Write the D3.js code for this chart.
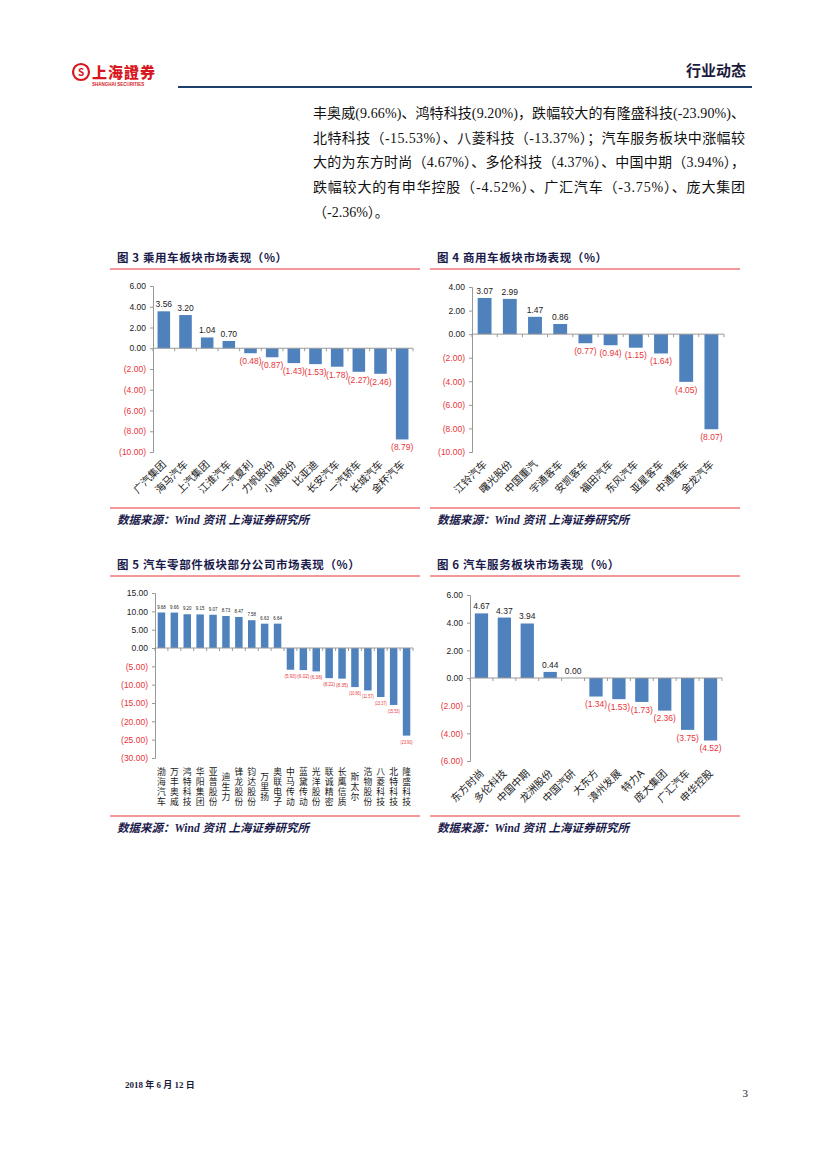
<!DOCTYPE html>
<html><head><meta charset="utf-8">
<script src="https://cdn.jsdelivr.net/npm/d3@7"></script>
<style>
body{margin:0;background:#fff;}
svg{display:block;}
</style></head>
<body>
<svg id="page" width="827" height="1169"></svg>
<script>
// ---------- DATA ----------
const paraLines = [
  "丰奥威(9.66%)、鸿特科技(9.20%)，跌幅较大的有隆盛科技(-23.90%)、",
  "北特科技（-15.53%）、八菱科技（-13.37%）；汽车服务板块中涨幅较",
  "大的为东方时尚（4.67%）、多伦科技（4.37%）、中国中期（3.94%），",
  "跌幅较大的有申华控股（-4.52%）、广汇汽车（-3.75%）、庞大集团",
  "（-2.36%）。"
];

const c3Title = "图 3 乘用车板块市场表现（%）";
const c3Cats = ["广汽集团","海马汽车","上汽集团","江淮汽车","一汽夏利","力帆股份","小康股份","比亚迪","长安汽车","一汽轿车","长城汽车","金杯汽车"];
const c3Vals = [3.56,3.20,1.04,0.70,-0.48,-0.87,-1.43,-1.53,-1.78,-2.27,-2.46,-8.79];
const c3Ticks = [6,4,2,0,-2,-4,-6,-8,-10];

const c4Title = "图 4 商用车板块市场表现（%）";
const c4Cats = ["江铃汽车","曙光股份","中国重汽","宇通客车","安凯客车","福田汽车","东风汽车","亚星客车","中通客车","金龙汽车"];
const c4Vals = [3.07,2.99,1.47,0.86,-0.77,-0.94,-1.15,-1.64,-4.05,-8.07];
const c4Ticks = [4,2,0,-2,-4,-6,-8,-10];

const c5Title = "图 5 汽车零部件板块部分公司市场表现（%）";
const c5Cats = ["渤海汽车","万丰奥威","鸿特科技","华阳集团","亚普股份","迪生力","锋龙股份","钧达股份","万里扬","奥联电子","中马传动","蓝黛传动","光洋股份","联诚精密","长鹰信质","斯太尔","浩物股份","八菱科技","北特科技","隆盛科技"];
const c5Vals = [9.68,9.66,9.20,9.15,9.07,8.73,8.47,7.58,6.63,6.64,-5.93,-6.02,-6.38,-8.22,-8.35,-10.66,-11.57,-13.37,-15.53,-23.90];
const c5Ticks = [15,10,5,0,-5,-10,-15,-20,-25,-30];

const c6Title = "图 6 汽车服务板块市场表现（%）";
const c6Cats = ["东方时尚","多伦科技","中国中期","龙洲股份","中国汽研","大东方","漳州发展","特力A","庞大集团","广汇汽车","申华控股"];
const c6Vals = [4.67,4.37,3.94,0.44,0.00,-1.34,-1.53,-1.73,-2.36,-3.75,-4.52];
const c6Ticks = [6,4,2,0,-2,-4,-6];

const sourceText = "数据来源：Wind 资讯 上海证券研究所";

// ---------- STYLE ----------
const BAR = "#4f81bd";
const RED = "#e8343a";
const NAVY = "#1b1b4b";
const CJK = "'Noto Sans CJK SC', sans-serif";
const NUM = "'Liberation Sans Narrow','Liberation Sans', Arial, sans-serif";

const svg = d3.select("#page");

// ---------- HEADER ----------
const hdr = svg.append("g");
hdr.append("circle").attr("cx",81).attr("cy",72).attr("r",8).attr("fill","none").attr("stroke","#d7181f").attr("stroke-width",2.2);
hdr.append("text").attr("x",81).attr("y",76).attr("text-anchor","middle").attr("font-family",CJK).attr("font-weight",700).attr("font-size",10).attr("fill","#d7181f").text("S");
hdr.append("text").attr("x",92).attr("y",78).attr("font-family",CJK).attr("font-weight",900).attr("font-size",15).attr("fill","#d7181f").attr("letter-spacing",1).text("上海證券");
hdr.append("text").attr("x",92).attr("y",86).attr("font-family",NUM).attr("font-weight",700).attr("font-size",4.5).attr("fill","#d7181f").text("SHANGHAI SECURITIES");
hdr.append("text").attr("x",746).attr("y",76).attr("text-anchor","end").attr("font-family",CJK).attr("font-weight",700).attr("font-size",15).attr("fill","#1b1b3b").text("行业动态");
hdr.append("line").attr("x1",178).attr("x2",752).attr("y1",87).attr("y2",87).attr("stroke","#1f3f6f").attr("stroke-width",2);

// ---------- PARAGRAPH ----------
const para = svg.append("g").attr("font-family","'Liberation Serif', 'Noto Sans CJK SC', serif").attr("font-size",14).attr("fill","#111");
paraLines.forEach((t,i)=>{
  const tx = para.append("text").attr("x",313).attr("y",118 + i*24.7).text(t);
  if(i<4) tx.attr("textLength",432).attr("lengthAdjust","spacing");
});

// ---------- CHART FUNCTION ----------
function fmt(v){ return v<0 ? "(" + Math.abs(v).toFixed(2) + ")" : v.toFixed(2); }

function drawChart(o){
  const g = svg.append("g");
  // title + red rule
  g.append("text").attr("x",o.left).attr("y",o.titleY).attr("font-family",CJK).attr("font-weight",700)
    .attr("font-size",11.5).attr("fill",NAVY).attr("letter-spacing",0.6).text(o.title);
  g.append("line").attr("x1",o.ruleX0).attr("x2",o.ruleX1).attr("y1",o.titleY+7).attr("y2",o.titleY+7).attr("stroke",RED).attr("stroke-width",1.2);
  // source rule + text
  g.append("line").attr("x1",o.ruleX0).attr("x2",o.ruleX1).attr("y1",o.srcY-12).attr("y2",o.srcY-12).attr("stroke",RED).attr("stroke-width",1.2);
  g.append("text").attr("x",o.left).attr("y",o.srcY+4).attr("font-family","'Liberation Serif', "+CJK).attr("font-weight",700)
    .attr("font-style","italic").attr("font-size",11.5).attr("fill",NAVY).text(sourceText);

  const y = d3.scaleLinear().domain([o.ticks[o.ticks.length-1], o.ticks[0]]).range([o.yBot,o.yTop]);
  const x = d3.scaleBand().domain(o.cats).range([o.axX,o.axR]).paddingInner(o.pad).paddingOuter(o.pad/2);
  const xs = d3.scaleBand().domain(o.cats).range([o.axX,o.axR]);

  // y axis
  const yAxis = d3.axisLeft(y).tickValues(o.ticks).tickSize(3).tickFormat(fmt);
  const ya = g.append("g").attr("transform",`translate(${o.axX},0)`).call(yAxis);
  ya.select(".domain").attr("stroke","#999");
  ya.selectAll(".tick line").attr("stroke","#999");
  ya.selectAll(".tick text").attr("font-family",NUM).attr("font-size",o.yFont).attr("dx",-1)
    .attr("fill",d=>d<0?RED:"#222");

  // bars
  g.selectAll("rect.bar").data(o.vals).enter().append("rect").attr("class","bar")
    .attr("x",(d,i)=>x(o.cats[i]))
    .attr("width",x.bandwidth())
    .attr("y",d=>y(Math.max(0,d)))
    .attr("height",d=>Math.abs(y(d)-y(0)))
    .attr("fill",BAR);

  // zero baseline with category ticks
  g.append("line").attr("x1",o.axX).attr("x2",o.axR).attr("y1",y(0)).attr("y2",y(0)).attr("stroke","#999");
  const bounds = d3.range(o.cats.length+1).map(i=>o.axX + i*xs.step());
  g.selectAll("line.ct").data(bounds).enter().append("line").attr("class","ct")
    .attr("x1",d=>d).attr("x2",d=>d).attr("y1",y(0)).attr("y2",y(0)+3).attr("stroke","#999");

  // value labels
  const vl = g.selectAll("text.val").data(o.vals).enter().append("text").attr("class","val")
    .attr("x",(d,i)=>x(o.cats[i])+x.bandwidth()/2)
    .attr("y",d=>d>=0 ? y(d)-o.valGap : y(d)+o.valGap+o.valFont*0.8)
    .attr("text-anchor","middle").attr("font-family",NUM).attr("font-size",o.valFont)
    .attr("fill",d=>d<0?RED:"#222").text(fmt);
  if(o.valLen) vl.attr("textLength",d=>d<0?o.valLen:o.valLen*0.72).attr("lengthAdjust","spacingAndGlyphs");

  // category labels
  if(o.labelMode==="rot"){
    g.selectAll("text.cat").data(o.cats).enter().append("text").attr("class","cat")
      .attr("transform",d=>`translate(${xs(d)+xs.bandwidth()/2+3},${o.yBot+o.catDy}) rotate(-45)`)
      .attr("text-anchor","end").attr("font-family",CJK).attr("font-size",o.catFont).attr("fill","#222").text(d=>d);
  } else {
    // vertical labels (upright CJK stacked in a column)
    g.selectAll("text.cat").data(o.cats).enter().append("text").attr("class","cat")
      .attr("x",d=>xs(d)+xs.bandwidth()/2).attr("y",o.vertMid)
      .style("writing-mode","vertical-rl").attr("writing-mode","tb")
      .attr("text-anchor","middle").attr("letter-spacing",1)
      .attr("font-family",CJK).attr("font-size",o.catFont).attr("fill","#222").text(d=>d);
  }
}

drawChart({title:c3Title, cats:c3Cats, vals:c3Vals, ticks:c3Ticks, left:117, titleY:262, ruleX0:110, ruleX1:420,
  srcY:520, axX:153, axR:413, yTop:286, yBot:452, pad:0.42, yFont:8.5, valFont:8.5, valGap:4, labelMode:"rot", catFont:10.3, catDy:13});

drawChart({title:c4Title, cats:c4Cats, vals:c4Vals, ticks:c4Ticks, left:437, titleY:262, ruleX0:430, ruleX1:740,
  srcY:520, axX:472, axR:724, yTop:287, yBot:452, pad:0.45, yFont:8.5, valFont:8.5, valGap:4, labelMode:"rot", catFont:10.3, catDy:13});

drawChart({title:c5Title, cats:c5Cats, vals:c5Vals, ticks:c5Ticks, left:117, titleY:569, ruleX0:110, ruleX1:420,
  srcY:828, axX:155, axR:413, yTop:593, yBot:758, pad:0.42, yFont:8.5, valFont:5, valGap:4, valLen:12, labelMode:"vert", vertMid:787, catFont:8.8});

drawChart({title:c6Title, cats:c6Cats, vals:c6Vals, ticks:c6Ticks, left:437, titleY:569, ruleX0:430, ruleX1:740,
  srcY:828, axX:470, axR:722, yTop:595, yBot:761, pad:0.42, yFont:8.5, valFont:8.5, valGap:4, labelMode:"rot", catFont:10.3, catDy:13});

// ---------- FOOTER ----------
svg.append("text").attr("x",125).attr("y",1088).attr("font-family","'Liberation Serif', "+CJK).attr("font-weight",700)
  .attr("font-size",9).attr("fill","#1b1b3b").text("2018 年 6 月 12 日");
svg.append("text").attr("x",748).attr("y",1097).attr("text-anchor","end").attr("font-family","'Liberation Serif', serif")
  .attr("font-size",11).attr("fill","#222").text("3");
</script>
</body></html>
